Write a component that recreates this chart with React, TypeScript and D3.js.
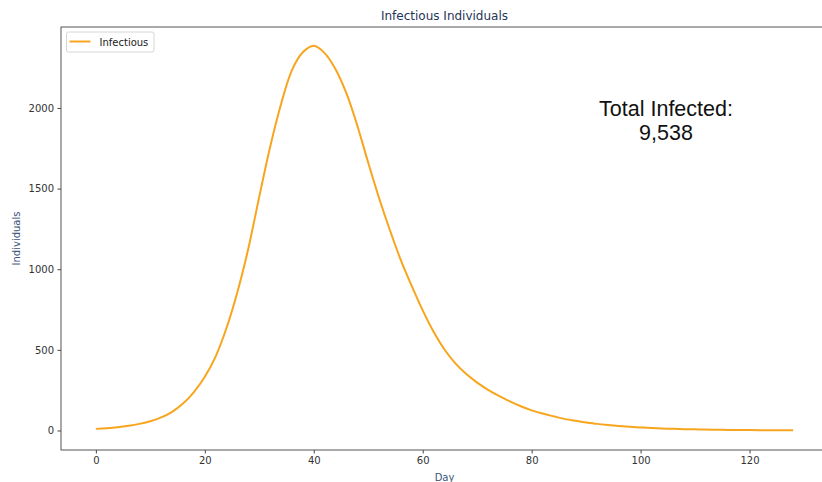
import React, { useEffect, useRef } from 'react';
import * as d3 from 'd3';

// infectious individuals per day
const days = [
  0, 2, 4, 6, 8, 10, 12, 14, 16, 18, 20, 22, 24, 26, 28, 30, 32, 34, 36, 38, 40,
  42, 44, 46, 48, 50, 52, 54, 56, 58, 60, 62, 64, 66, 68, 70, 72, 74, 76, 78, 80,
  82, 84, 86, 88, 90, 92, 94, 96, 98, 100, 102, 104, 106, 108, 110, 112, 114, 116,
  118, 120, 122, 124, 126, 128,
];
const infectious = [
  10, 14, 20, 29, 41, 57, 81, 116, 167, 238, 333, 460, 637, 860, 1130, 1450, 1760,
  2025, 2235, 2345, 2385, 2340, 2240, 2090, 1890, 1660, 1440, 1240, 1055, 895, 745,
  612, 502, 416, 350, 297, 252, 214, 180, 150, 125, 105, 88, 72, 60, 50, 41, 34, 28,
  23, 19, 15, 12, 10, 8, 7, 5.5, 4.5, 3.7, 3, 2.4, 2, 1.6, 1.3, 1,
];
const xTicks = [0, 20, 40, 60, 80, 100, 120];
const yTicks = [0, 500, 1000, 1500, 2000];
const totalInfected = 9538;

export default function App() {
  const svgRef = useRef<SVGSVGElement>(null);

  useEffect(() => {
    const width = 822;
    const height = 482;
    const margin = { top: 27, right: -6, bottom: 32, left: 61 };
    const font = 'DejaVu Sans, sans-serif';

    const svg = d3.select(svgRef.current);
    svg.selectAll('*').remove();
    svg.attr('width', width).attr('height', height);

    const x = d3.scaleLinear().domain([-6.4, 134.4]).range([margin.left, width - margin.right]);
    const y = d3.scaleLinear().domain([-121, 2502]).range([height - margin.bottom, margin.top]);

    const data = days.map((d, i) => ({ day: d, value: infectious[i] }));

    // line
    const line = d3.line<{ day: number; value: number }>()
      .x(d => x(d.day))
      .y(d => y(d.value))
      .curve(d3.curveCatmullRom.alpha(0.5));

    svg.append('path')
      .datum(data)
      .attr('d', line)
      .attr('fill', 'none')
      .attr('stroke', '#f8a51e')
      .attr('stroke-width', 2);

    // x axis
    const xAxis = svg.append('g')
      .attr('transform', `translate(0,${height - margin.bottom})`)
      .call(d3.axisBottom(x).tickValues(xTicks).tickSize(3.5).tickPadding(3.5).tickFormat(d3.format('d')));
    // y axis
    const yAxis = svg.append('g')
      .attr('transform', `translate(${margin.left},0)`)
      .call(d3.axisLeft(y).tickValues(yTicks).tickSize(3.5).tickPadding(3.5).tickFormat(d3.format('d')));

    [xAxis, yAxis].forEach(g => {
      g.select('.domain').remove();
      g.selectAll('line').attr('stroke', '#444');
      g.selectAll('text').attr('font-family', font).attr('font-size', 10).attr('fill', '#333');
    });

    // spines
    const spine = svg.append('g').attr('stroke', '#555').attr('stroke-width', 1).attr('fill', 'none');
    spine.append('rect')
      .attr('x', margin.left)
      .attr('y', margin.top)
      .attr('width', width - margin.right - margin.left)
      .attr('height', height - margin.bottom - margin.top);

    // title + axis labels
    svg.append('text')
      .attr('x', (margin.left + width - margin.right) / 2)
      .attr('y', 20)
      .attr('text-anchor', 'middle')
      .attr('font-family', font)
      .attr('font-size', 12)
      .attr('fill', '#1f3557')
      .text('Infectious Individuals');

    svg.append('text')
      .attr('x', (margin.left + width - margin.right) / 2)
      .attr('y', 481)
      .attr('text-anchor', 'middle')
      .attr('font-family', font)
      .attr('font-size', 10)
      .attr('fill', '#3a5578')
      .text('Day');

    svg.append('text')
      .attr('transform', `translate(20,${(margin.top + height - margin.bottom) / 2}) rotate(-90)`)
      .attr('text-anchor', 'middle')
      .attr('font-family', font)
      .attr('font-size', 10)
      .attr('fill', '#3a5578')
      .text('Individuals');

    // legend
    const legend = svg.append('g').attr('transform', `translate(${margin.left + 5.5},${margin.top + 5})`);
    legend.append('rect')
      .attr('width', 87.5)
      .attr('height', 20)
      .attr('rx', 2)
      .attr('fill', 'white')
      .attr('stroke', '#d6d6d6');
    legend.append('line')
      .attr('x1', 3).attr('x2', 24).attr('y1', 9.5).attr('y2', 9.5)
      .attr('stroke', '#f8a51e').attr('stroke-width', 2);
    legend.append('text')
      .attr('x', 33)
      .attr('y', 13.5)
      .attr('font-family', font)
      .attr('font-size', 10)
      .attr('fill', '#222')
      .text('Infectious');

    // annotation
    const note = svg.append('text')
      .attr('text-anchor', 'middle')
      .attr('font-family', 'Liberation Sans, Arial, sans-serif')
      .attr('font-size', 21.5)
      .attr('fill', '#111');
    note.append('tspan').attr('x', 666).attr('y', 116).text('Total Infected:');
    note.append('tspan').attr('x', 666).attr('y', 140).text(d3.format(',')(totalInfected));
  }, []);

  return (
    <div style={{ position: 'fixed', left: 0, top: 0, background: 'white' }}>
      <svg ref={svgRef} style={{ display: 'block' }}></svg>
    </div>
  );
}
